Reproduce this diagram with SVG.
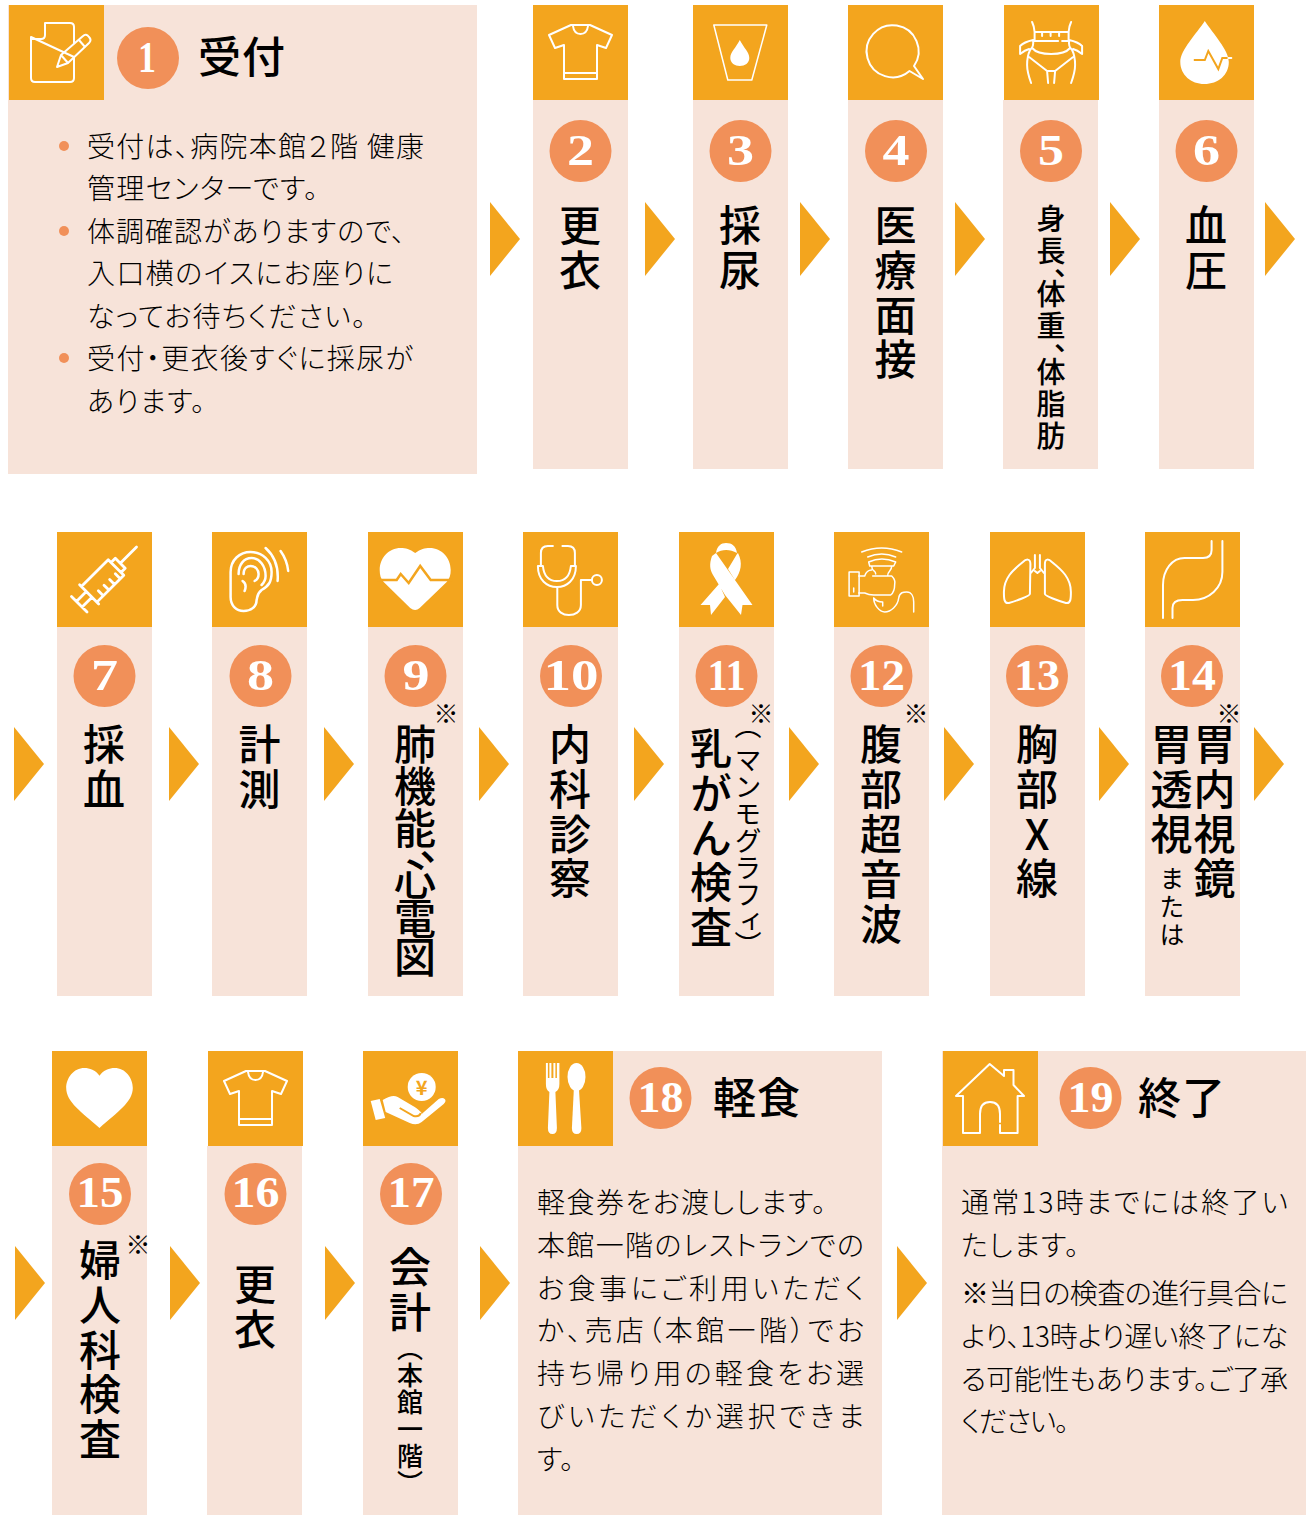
<svg xmlns="http://www.w3.org/2000/svg" width="1306" height="1515" viewBox="0 0 1306 1515">
<style>
text{font-family:"Noto Sans CJK JP","Noto Sans",sans-serif;fill:#000}
.bg{fill:#f7e3d9}.ic{fill:#f3a51e}.c{fill:#f19059}
.n{font-family:"Liberation Serif",serif;font-weight:700;font-size:44px;fill:#fff;text-anchor:middle}
.s{fill:none;stroke:#fff;stroke-width:2;stroke-linecap:round;stroke-linejoin:round}
.f{fill:#fff}.o{fill:none;stroke:#f3a51e;stroke-width:2}
.t{font-size:42px;font-weight:500;writing-mode:vertical-rl;letter-spacing:2.800px}
.h{font-size:43px;font-weight:500;letter-spacing:1px}
.m{font-size:29px;font-weight:500;writing-mode:vertical-rl;letter-spacing:3px}
.b{font-size:28px;font-weight:300;font-feature-settings:"palt"}
.k{font-size:25px;font-weight:300;text-anchor:middle}
.a{fill:#f3a51e}
</style>
<defs>
<path id="shirt" d="M22,20 H41 L63,30 L57,43 L48,40 V74 H15 V40 L6,43 L0,30 Z M24,21 Q25,29 31.500,29 Q38,29 39,21 M15,68 H48"/>
</defs>

<g id="connectors">
<polygon class="a" points="490,202 520,239 490,276"/><polygon class="a" points="645,202 675,239 645,276"/><polygon class="a" points="800,202 830,239 800,276"/><polygon class="a" points="955,202 985,239 955,276"/><polygon class="a" points="1110,202 1140,239 1110,276"/><polygon class="a" points="1265,202 1295,239 1265,276"/>
<polygon class="a" points="14,727 44,764 14,801"/><polygon class="a" points="169,727 199,764 169,801"/><polygon class="a" points="324,727 354,764 324,801"/><polygon class="a" points="479,727 509,764 479,801"/><polygon class="a" points="634,727 664,764 634,801"/><polygon class="a" points="789,727 819,764 789,801"/><polygon class="a" points="944,727 974,764 944,801"/><polygon class="a" points="1099,727 1129,764 1099,801"/><polygon class="a" points="1254,727 1284,764 1254,801"/>
<polygon class="a" points="15,1246 45,1283 15,1320"/><polygon class="a" points="170,1246 200,1283 170,1320"/><polygon class="a" points="325,1246 355,1283 325,1320"/><polygon class="a" points="480,1246 510,1283 480,1320"/><polygon class="a" points="897,1246 927,1283 897,1320"/>
</g>

<g id="node1">
<rect class="bg" x="8" y="5" width="469" height="469"/><rect class="ic" x="9" y="5" width="95" height="95"/>
<path class="s" d="M45,23 H70 Q74,23 74,27 V43 M74,57 V78 Q74,82 70,82 H35 Q31,82 31,78 V37 Z M45,23 V35 Q45,39 41,39 H31"/>
<path class="s" d="M57,67 L61,55 L83,36 Q86,33 89,37 Q92,40 89,43 L68,63 Z M61,55 L68,63 M79,40 L85,47"/>
<circle class="c" cx="148" cy="58" r="31"/><text class="n" x="147" y="72" textLength="18" lengthAdjust="spacingAndGlyphs">1</text>
<text class="h" x="198" y="73">受付</text>
<circle class="c" cx="64" cy="146" r="5"/><circle class="c" cx="64" cy="231" r="5"/><circle class="c" cx="64" cy="358" r="5"/>
<text class="b" x="87" y="157" textLength="337">受付は、病院本館２階 健康</text>
<text class="b" x="87" y="199" textLength="231">管理センターです。</text>
<text class="b" x="87" y="242" textLength="318">体調確認がありますので、</text>
<text class="b" x="87" y="284" textLength="306">入口横のイスにお座りに</text>
<text class="b" x="87" y="327" textLength="279">なってお待ちください。</text>
<text class="b" x="87" y="369" textLength="326">受付・更衣後すぐに採尿が</text>
<text class="b" x="87" y="412" textLength="118">あります。</text>
</g>

<g id="node2">
<rect class="bg" x="533" y="100" width="95" height="369"/><rect class="ic" x="533" y="5" width="95" height="95"/>
<use href="#shirt" class="s" x="549" y="5"/>
<circle class="c" cx="580.500" cy="151" r="31"/><text class="n" x="580.500" y="165" textLength="27" lengthAdjust="spacingAndGlyphs">2</text>
<text class="t" x="580" y="204">更衣</text>
</g>
<g id="node3">
<rect class="bg" x="693" y="100" width="95" height="369"/><rect class="ic" x="693" y="5" width="95" height="95"/>
<g transform="translate(-1.200,0)"><path class="s" d="M715,25 H768 L753,80 H729 Z" style="stroke-width:1.500"/>
<path class="f" d="M741,40 C737,48 731.500,52 731.500,58 C731.500,63 736,66 741,66 C746,66 750.500,63 750.500,58 C750.500,52 745,48 741,40Z"/></g>
<circle class="c" cx="740.500" cy="151" r="31"/><text class="n" x="740.500" y="165" textLength="27" lengthAdjust="spacingAndGlyphs">3</text>
<text class="t" x="740" y="204">採尿</text>
</g>
<g id="node4">
<rect class="bg" x="848" y="100" width="95" height="369"/><rect class="ic" x="848" y="5" width="95" height="95"/>
<path class="s" transform="translate(-2,0)" d="M911.500,71 A26,26 0 1 1 916,66 L925,79 Z"/>
<circle class="c" cx="896" cy="151" r="31"/><text class="n" x="896" y="165" textLength="27" lengthAdjust="spacingAndGlyphs">4</text>
<text class="t" x="895.500" y="204">医療面接</text>
</g>
<g id="node5">
<rect class="bg" x="1003" y="100" width="95" height="369"/><rect class="ic" x="1004" y="5" width="95" height="95"/>
<path class="s" transform="translate(-2.900,0)" d="M1035,22 Q1037,26 1037.500,32 V41 H1061 M1071.500,32 Q1072,26 1074,22 M1037.500,32 H1071.500 V41 H1065 M1045,32 V36 M1053.500,32 V36 M1062,32 V36 M1023,54 V46 Q1027,42 1036,40 M1023,54 Q1028,50 1032,49 M1085,54 V46 Q1081,42 1072,40 M1085,54 Q1080,50 1076,49 M1036,41 Q1037,46 1033,50 Q1030,56 1030,65 Q1030,72 1034,83 M1072,41 Q1071,46 1075,50 Q1078,56 1078,65 Q1078,72 1074,83 M1035,48 Q1040,54 1054,54 Q1068,54 1073,48 M1032,57 L1050,71 H1058 L1076,57 M1050,71 L1051,83 M1058,71 L1057,83"/>
<circle class="c" cx="1051" cy="151" r="31"/><text class="n" x="1051" y="165" textLength="26" lengthAdjust="spacingAndGlyphs">5</text>
<text class="m" x="1051" y="204">身長、</text><text class="m" x="1051" y="279">体重、</text><text class="m" x="1051" y="357">体脂肪</text>
</g>
<g id="node6">
<rect class="bg" x="1159" y="100" width="95" height="369"/><rect class="ic" x="1159" y="5" width="95" height="95"/>
<g transform="translate(-3.700,0)"><path class="f" d="M1208.500,21 C1200,34 1184,50 1184,62 C1184,75 1195,84 1208,84 C1222,84 1232.500,75 1232.500,62 C1232.500,50 1217,34 1208.500,21Z"/>
<path class="o" d="M1197.500,60 H1208.500 L1212,51 L1222,69 L1226,58 H1232"/><path class="s" d="M1232,58 H1235"/></g>
<circle class="c" cx="1206.500" cy="151" r="31"/><text class="n" x="1206.500" y="165" textLength="27" lengthAdjust="spacingAndGlyphs">6</text>
<text class="t" x="1206" y="204">血圧</text>
</g>

<g id="node7">
<rect class="bg" x="57" y="627" width="95" height="369"/><rect class="ic" x="57" y="532" width="95" height="95"/>
<path class="s" style="stroke-width:2.800" transform="translate(104,579.500) rotate(-45)" d="M23,0 H46 M-21,-11 H17 V11 H-21 Z M17,-7 H23 V7 H17 M-21,-13.500 V13.500 M-21,-4 H-35 M-21,4 H-35 M-35,-11 V11 M-12,11 V4 M-4,11 V4 M4,11 V4 M12,11 V4"/>
<circle class="c" cx="104.500" cy="676" r="31"/><text class="n" x="104.500" y="690" textLength="27" lengthAdjust="spacingAndGlyphs">7</text>
<text class="t" x="104" y="723">採血</text>
</g>
<g id="node8">
<rect class="bg" x="212" y="627" width="95" height="369"/><rect class="ic" x="212" y="532" width="95" height="95"/>
<path class="s" transform="translate(-1.400,0)" style="stroke-width:2.500" d="M232,597 V572 C232,560 241,552 252,552 C264,552 273,561 273,572 C273,582 270,586 263,590 C258,594 259,597 258,600 C258,607 252,611 245,611 C238,611 232,606 232,597 Z M240,574 C240,565 245,558 253,558 C261,558 267,566 267,576 C267,580 265,583 263,585 M245,574 C245,568 249,566 252,566 C257,566 260,570 260,574 C260,578 258,580 256,581 M244,581 C247,583 248,586 246,591 M267,548 C276,556 280,568 279,581 M282,551 C287,558 289,565 289.600,571"/>
<circle class="c" cx="260.500" cy="676" r="31"/><text class="n" x="260.500" y="690" textLength="27" lengthAdjust="spacingAndGlyphs">8</text>
<text class="t" x="259.500" y="723">計測</text>
</g>
<g id="node9">
<rect class="bg" x="368" y="627" width="95" height="369"/><rect class="ic" x="368" y="532" width="95" height="95"/>
<g transform="translate(-2.300,0)"><path class="f" d="M417.500,553 C412,549 408,548 403,548 C391,548 382,558 382,570 C382,575 383,579 386,582 L412.500,608 Q417.500,612 422,608 L449,582 C452,578 453,575 453,570 C453,558 444,548 432,548 C427,548 423,549 417.500,553Z"/>
<path class="o" style="stroke-width:2.500" d="M380,580 H399 L403,574 L411,583 L422.500,566 L433,580 H455"/></g>
<circle class="c" cx="415.500" cy="676" r="31"/><text class="n" x="416" y="690" textLength="27" lengthAdjust="spacingAndGlyphs">9</text>
<text class="t" x="415" y="723" style="letter-spacing:0">肺機能、</text><text class="t" x="415" y="858" style="letter-spacing:-3px">心電図</text>
<text class="k" x="446" y="723">※</text>
</g>
<g id="node10">
<rect class="bg" x="523" y="627" width="95" height="369"/><rect class="ic" x="523" y="532" width="95" height="95"/>
<g transform="translate(-3.100,0)"><path class="s" d="M556,546 H551 Q544,546 544,553 V565 M565.500,546 H571 Q578,546 578,553 V565 M541,566 C541,580 550,587 560,587 C570,587 579,580 579,566 M546,566 C547,576 552,581 560,581 C568,581 573,576 574,566 M541,566 H546 M574,566 H579 M560.400,587 V605 C560.400,612 566,615 572,615 C578,615 584,612 584,605 V580 H594"/>
<circle class="s" cx="600" cy="580" r="5"/></g>
<circle class="c" cx="571" cy="676" r="31"/><text class="n" x="571" y="690" textLength="55" lengthAdjust="spacingAndGlyphs">10</text>
<text class="t" x="570" y="723">内科診察</text>
</g>
<g id="node11">
<rect class="bg" x="679" y="627" width="95" height="369"/><rect class="ic" x="679" y="532" width="95" height="95"/>
<path class="f" d="M712,556 C709,564 710,570 713,575 L725,595 L741,615 L742.500,605 L752.500,605 L716,553 Z M737,554 L728,569 L735,580 C741,572 743,563 738,553 Z M719,584 L700.500,605 L710,605 L711,615 L725,597 Z M716,553 C717,546 721,543 726,543 C732,543 736,546 737,553 C730,549 722,549 716,553Z"/>
<circle class="c" cx="726.500" cy="676" r="31"/><text class="n" x="726.500" y="690" textLength="38" lengthAdjust="spacingAndGlyphs">11</text>
<text class="t" x="711" y="727">乳がん検査</text>
<text class="m" x="748" y="712" style="font-size:27px;font-weight:400">（</text><text class="m" x="748" y="746" style="font-size:27px;font-weight:400;letter-spacing:0">マンモグラフィ</text><text class="m" x="748" y="931" style="font-size:27px;font-weight:400">）</text>
<text class="k" x="761" y="723">※</text>
</g>
<g id="node12">
<rect class="bg" x="834" y="627" width="95" height="369"/><rect class="ic" x="834" y="532" width="95" height="95"/>
<g transform="translate(-1.300,0)"><path class="s" style="stroke-width:1.500" d="M863,552 Q883,544 903,552 M869,557 Q883,551 897,557 M870,562 Q883,556 897,562 L895,566 H871 Z M873,566 C873,572 877,570 877,574 M893,566 C893,572 889,570 889,576 M860,576 H866 Q868,570 873,570 M874,576 H893 Q897,580 896,584 Q896,592 892,595 H875 Q870,595 866,593 H860 M875,598 C875,605 881,612 886,612 C892,612 899,606 900,598 C901,592 905,592 908,592 C913,592 915,597 915,602 V612 M875,598 Q878,602 884,602 V606"/>
<rect class="s" style="stroke-width:1.500" x="850.400" y="572" width="10" height="24"/><path class="s" style="stroke-width:1.500" d="M855,588 V592"/></g>
<circle class="c" cx="881.500" cy="676" r="31"/><text class="n" x="881.500" y="690" textLength="47" lengthAdjust="spacingAndGlyphs">12</text>
<text class="t" x="881" y="723" style="letter-spacing:3px">腹部超音波</text>
<text class="k" x="916" y="723">※</text>
</g>
<g id="node13">
<rect class="bg" x="990" y="627" width="95" height="369"/><rect class="ic" x="990" y="532" width="95" height="95"/>
<path class="s" transform="translate(-2.100,0)" d="M1032.500,564 C1032.500,558 1028,559 1025,562 C1015,570 1006,578 1006,592 C1006,598 1006,604 1011,603 C1018,601 1032,596 1032,594 Z M1047,564 C1047,558 1051,559 1054,562 C1064,570 1073,578 1073,592 C1073,598 1073,604 1068,603 C1061,601 1047,596 1047,594 Z M1037,555 V568 L1033,573 M1042,555 V568 L1046,573 M1037,571 L1039.500,573 L1042,571"/>
<circle class="c" cx="1037" cy="676" r="31"/><text class="n" x="1037" y="690" textLength="46" lengthAdjust="spacingAndGlyphs">13</text>
<text class="t" x="1037" y="723" style="text-orientation:upright">胸部X線</text>
</g>
<g id="node14">
<rect class="bg" x="1145" y="627" width="95" height="369"/><rect class="ic" x="1145" y="532" width="95" height="95"/>
<path class="s" transform="translate(-3,0)" d="M1214.600,541 V550 Q1214.600,558 1206,558 H1187.500 C1175,558 1166,570 1166,585 V618 M1225.400,541 V572 C1225.400,588 1212,600 1196,600 H1185.500 Q1175.500,600 1175.500,608 V618"/>
<circle class="c" cx="1192" cy="676" r="31"/><text class="n" x="1192" y="690" textLength="48" lengthAdjust="spacingAndGlyphs">14</text>
<text class="t" x="1171.500" y="723">胃透視</text><text class="t" x="1214.500" y="723">胃内視鏡</text>
<text class="m" x="1172" y="866" style="font-size:25px;font-weight:400">または</text>
<text class="k" x="1229" y="723">※</text>
</g>

<g id="node15">
<rect class="bg" x="52" y="1146" width="95" height="369"/><rect class="ic" x="52" y="1051" width="95" height="95"/>
<path class="f" d="M100,1075.700 C96,1070 90,1068 85,1068 C74,1068 66.700,1078 66.700,1088 C66.700,1102 82,1112 100,1128 C118,1112 133.300,1102 133.300,1088 C133.300,1078 126,1068 115,1068 C110,1068 104,1070 100,1075.700Z" transform="translate(-.500,0)"/>
<circle class="c" cx="100" cy="1194" r="31"/><text class="n" x="100" y="1207" textLength="47" lengthAdjust="spacingAndGlyphs">15</text>
<text class="t" x="100" y="1239">婦人科検査</text>
<text class="k" x="138" y="1254">※</text>
</g>
<g id="node16">
<rect class="bg" x="207" y="1146" width="95" height="369"/><rect class="ic" x="208" y="1051" width="95" height="95"/>
<use href="#shirt" class="s" x="224" y="1051"/>
<circle class="c" cx="255.500" cy="1194" r="31"/><text class="n" x="255.500" y="1207" textLength="48" lengthAdjust="spacingAndGlyphs">16</text>
<text class="t" x="255" y="1263">更衣</text>
</g>
<g id="node17">
<rect class="bg" x="363" y="1146" width="95" height="369"/><rect class="ic" x="363" y="1051" width="95" height="95"/>
<g transform="translate(-2.300,0)"><ellipse class="f" cx="424" cy="1087" rx="14" ry="14"/>
<text x="424" y="1095" style="font-size:20px;font-weight:700;fill:#f3a51e;text-anchor:middle">¥</text>
<path class="f" d="M373,1101 L382,1099 L387.500,1118 L378,1120 Z M385,1100 C392,1096 396,1095 400,1097 L417,1107 C421,1110 424,1112 424,1114 L441,1099 Q445,1097 447,1099 Q449,1101 446,1104 L424,1122 Q419,1126 412,1123 L388,1112 Z"/>
<path class="o" d="M402,1108 L416,1116 Q422,1117 423,1113"/></g>
<circle class="c" cx="411" cy="1194" r="31"/><text class="n" x="411" y="1207" textLength="47" lengthAdjust="spacingAndGlyphs">17</text>
<text class="t" x="410" y="1246">会計</text>
<text class="m" x="410" y="1335" style="font-size:26px;font-weight:500;letter-spacing:1px">（本館一階）</text>
</g>
<g id="node18">
<rect class="bg" x="518" y="1051" width="364" height="464"/><rect class="ic" x="518" y="1051" width="95" height="95"/>
<g transform="translate(-3.100,0)"><path class="f" d="M549,1063 H551 V1078 H552.500 V1063 H554.500 V1078 H556.500 V1063 H558.500 V1078 H560 V1063 H562.500 V1084 Q562.500,1090 558.500,1092 L560,1128 Q560,1134 555.500,1134 Q551,1134 551,1128 L552.500,1092 Q549,1090 549,1084 Z"/>
<ellipse class="f" cx="579.600" cy="1077" rx="9" ry="14"/>
<path class="f" d="M577,1088 H582 L584.500,1128 Q584.500,1134 579.800,1134 Q575,1134 575,1128 Z"/></g>
<circle class="c" cx="660.500" cy="1098" r="31"/><text class="n" x="660.500" y="1112" textLength="46" lengthAdjust="spacingAndGlyphs">18</text>
<text class="h" x="713" y="1114">軽食</text>
<text class="b" x="537" y="1213" textLength="289">軽食券をお渡しします。</text>
<text class="b" x="537" y="1256" textLength="327">本館一階のレストランでの</text>
<text class="b" x="537" y="1299" textLength="327">お食事にご利用いただく</text>
<text class="b" x="537" y="1341" textLength="327">か、売店（本館一階）でお</text>
<text class="b" x="537" y="1384" textLength="327">持ち帰り用の軽食をお選</text>
<text class="b" x="537" y="1427" textLength="327">びいただくか選択できま</text>
<text class="b" x="537" y="1470" textLength="37">す。</text>
</g>
<g id="node19">
<rect class="bg" x="942" y="1051" width="364" height="464"/><rect class="ic" x="943" y="1051" width="95" height="95"/>
<path class="s" transform="translate(-2,0)" d="M982,1133 H965 V1096 H958 L991.700,1064 L1006,1076 V1070 H1015.500 V1085 L1026,1096 H1019.600 V1133 H1002 V1125 M982,1133 V1114 Q982,1102 992,1102 Q1002,1102 1002,1114 V1122"/>
<circle class="c" cx="1090.500" cy="1098" r="31"/><text class="n" x="1090.500" y="1112" textLength="46" lengthAdjust="spacingAndGlyphs">19</text>
<text class="h" x="1138" y="1114">終了</text>
<text class="b" x="961" y="1213" textLength="327">通常13時までには終了い</text>
<text class="b" x="961" y="1256" textLength="118">たします。</text>
<text class="b" x="961" y="1304" textLength="327">※当日の検査の進行具合に</text>
<text class="b" x="961" y="1347" textLength="327">より、13時より遅い終了にな</text>
<text class="b" x="961" y="1390" textLength="327">る可能性もあります。ご了承</text>
<text class="b" x="961" y="1432" textLength="108">ください。</text>
</g>
</svg>
